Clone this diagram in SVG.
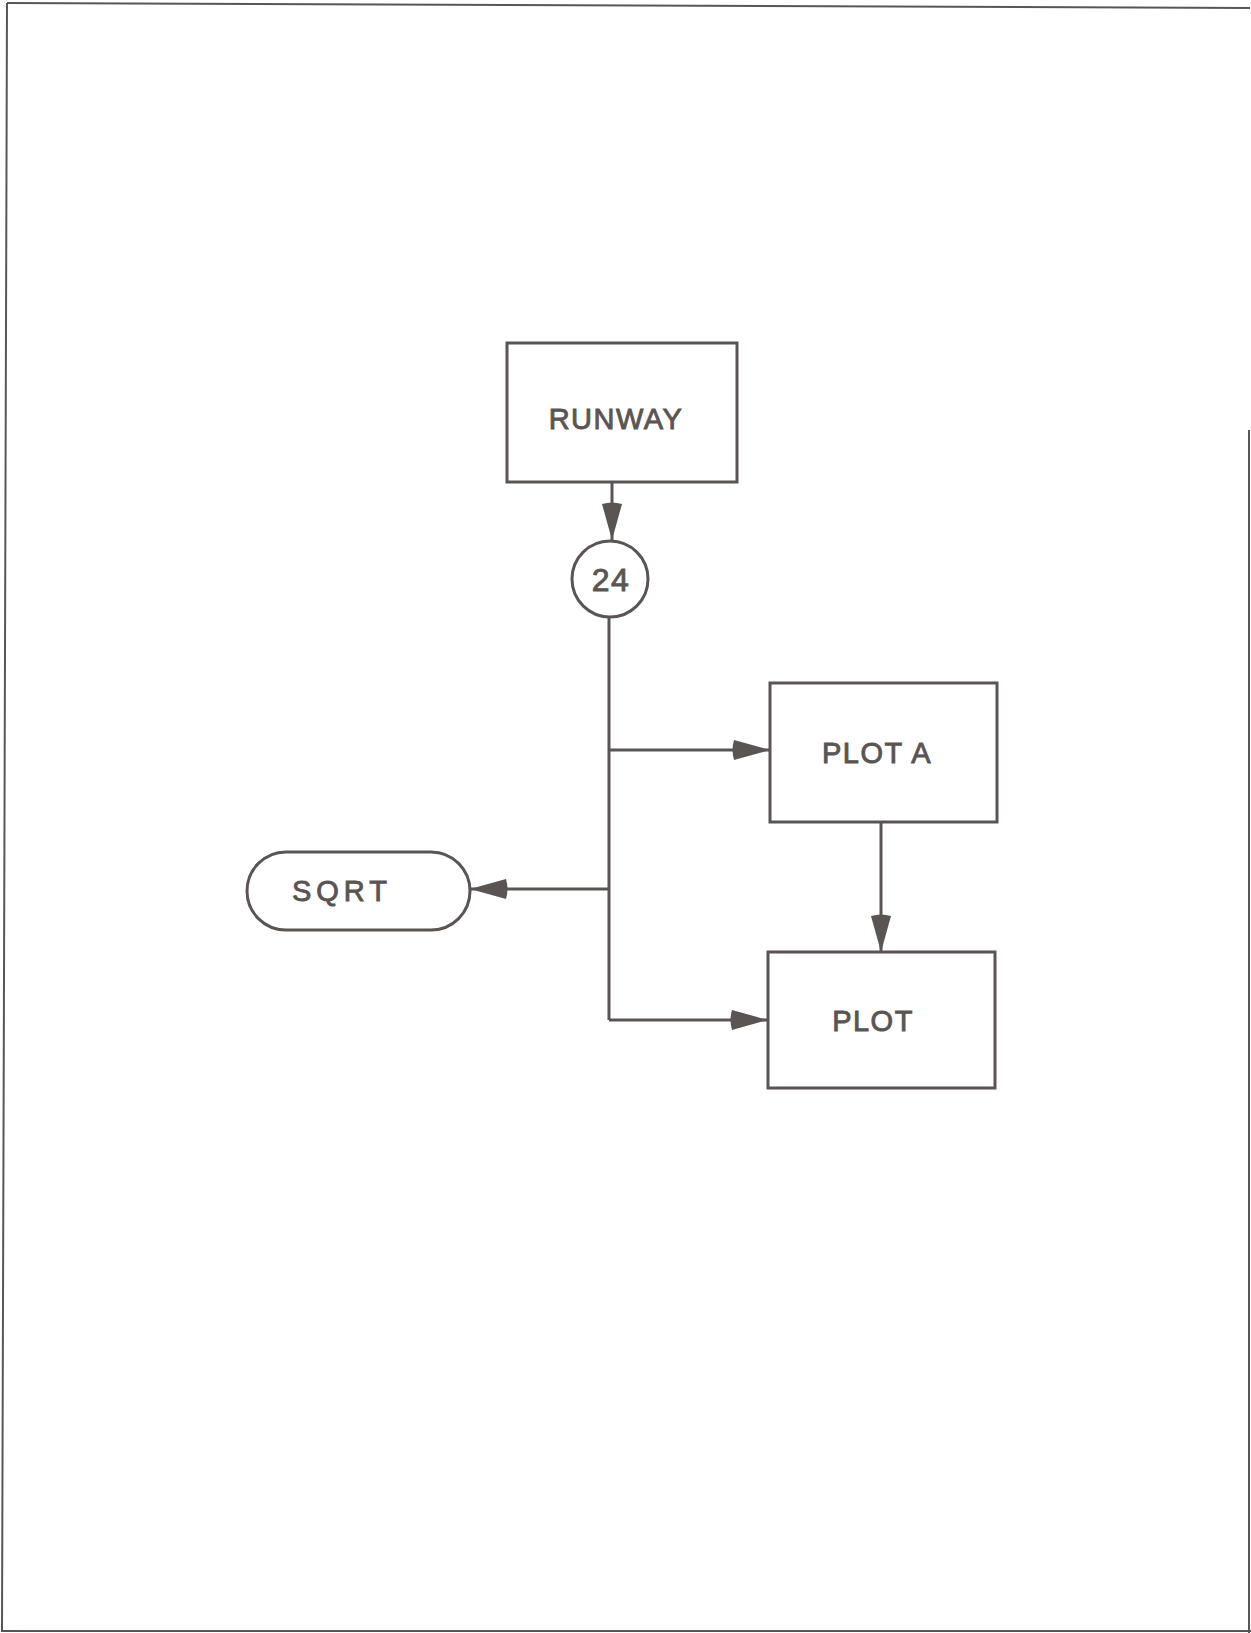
<svg xmlns="http://www.w3.org/2000/svg" width="1251" height="1633" viewBox="0 0 1251 1633">
<style>
.box{fill:none;stroke:#5a5553;stroke-width:3}
.ln{fill:none;stroke:#5a5553;stroke-width:3}
.frame{fill:none;stroke:#5a5553;stroke-width:2}
.lbl{font-family:"Liberation Sans",Arial,sans-serif;font-size:29px;fill:#5a5553;stroke:#5a5553;stroke-width:0.9;letter-spacing:1.5px;text-anchor:middle}
</style>
<defs>
<marker id="ah" markerWidth="40" markerHeight="22" refX="38" refY="11" orient="auto" markerUnits="userSpaceOnUse">
<path d="M2,1 L38,11 L2,21 Q-1,11 2,1 Z" fill="#5a5553"/>
</marker>
</defs>
<rect width="1251" height="1633" fill="#ffffff"/>
<g id="frame">
<path class="frame" d="M7,3 L1250,8"/>
<path class="frame" d="M7,3 L2,1631 L1251,1631"/>
<path class="frame" d="M1249,430 L1249,1633"/>
</g>
<g id="connectors">
<path class="ln" d="M612,482 L612,540" marker-end="url(#ah)"/>
<path class="ln" d="M609,617 L609,1020"/>
<path class="ln" d="M609,750 L770,750" marker-end="url(#ah)"/>
<path class="ln" d="M609,1020 L768,1020" marker-end="url(#ah)"/>
<path class="ln" d="M609,889 L470,889" marker-end="url(#ah)"/>
<path class="ln" d="M881,822 L881,952" marker-end="url(#ah)"/>
</g>
<g id="runway">
<rect class="box" x="507" y="343" width="230" height="139"/>
<text class="lbl" x="616" y="429">RUNWAY</text>
</g>
<g id="n24">
<circle class="box" cx="610" cy="579" r="38"/>
<text class="lbl" x="611" y="591" style="font-size:32px">24</text>
</g>
<g id="plota">
<rect class="box" x="770" y="683" width="227" height="139"/>
<text class="lbl" x="877" y="763">PLOT A</text>
</g>
<g id="plot">
<rect class="box" x="768" y="952" width="227" height="136"/>
<text class="lbl" x="873" y="1031">PLOT</text>
</g>
<g id="sqrt">
<rect class="box" x="247" y="852" width="223" height="78" rx="39" ry="39"/>
<text class="lbl" x="342" y="901" style="letter-spacing:5px">SQRT</text>
</g>
</svg>
